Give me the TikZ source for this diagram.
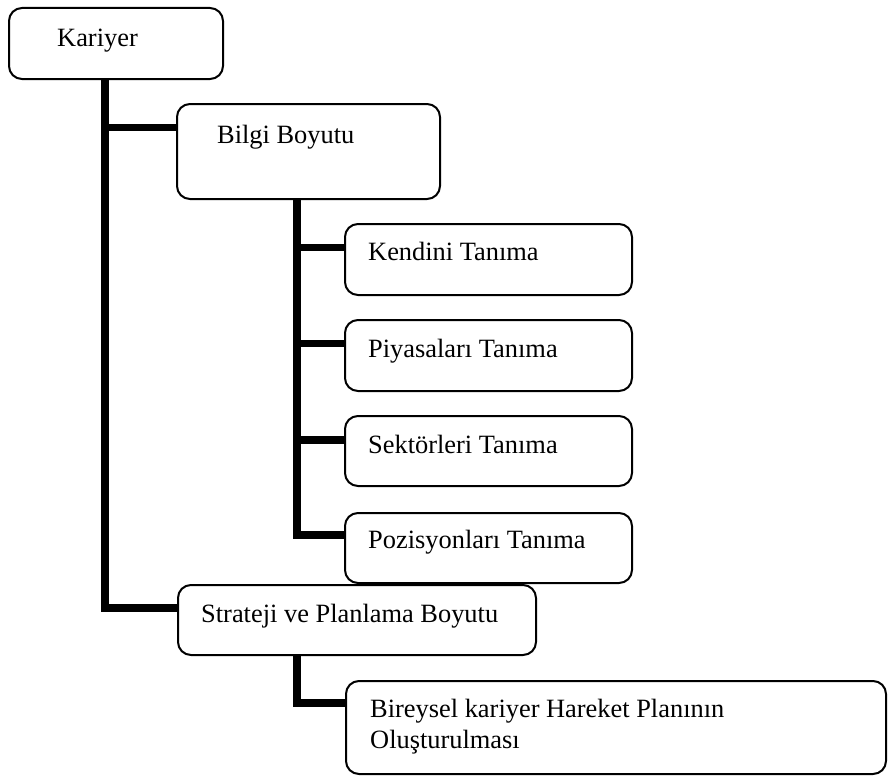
\documentclass[tikz,border=0pt]{standalone}
\usepackage{fontspec}
\setmainfont{Liberation Serif}
\begin{document}
\begin{tikzpicture}[x=1pt,y=-1pt,
  box/.style={draw, fill=white, line width=2pt, rounded corners=13pt,
              anchor=north west, inner sep=0pt, outer sep=0pt},
  txt/.style={anchor=base west, inner sep=0pt,
              font=\fontsize{26.4}{31}\selectfont},
  conn/.style={line width=7.5pt, line join=miter, line cap=butt}]
\useasboundingbox (0,0) rectangle (888,776);

% trunk positions
\coordinate (t1) at (105,0);
\coordinate (t2) at (297,0);

% boxes
\node[box, minimum width=214pt, minimum height=71pt] (kariyer)  at (9,8)   {};
\node[box, minimum width=263pt, minimum height=95pt] (bilgi)    at (177,104) {};
\node[box, minimum width=287pt, minimum height=71pt] (kendini)  at (345,224) {};
\node[box, minimum width=287pt, minimum height=71pt] (piyasa)   at (345,320) {};
\node[box, minimum width=287pt, minimum height=70pt] (sektor)   at (345,416) {};
\node[box, minimum width=287pt, minimum height=70pt] (pozisyon) at (345,513) {};
\node[box, minimum width=358pt, minimum height=70pt] (strat)    at (178,585) {};
\node[box, minimum width=540pt, minimum height=93pt] (bireysel) at (346,681) {};

% connectors
\draw[conn] (kariyer.south -| t1) |- (strat.west |- 0,608);
\draw[conn] (t1 |- 0,127.5) -- (bilgi.west |- 0,127.5);
\draw[conn] (bilgi.south -| t2) |- (pozisyon.west |- 0,535);
\draw[conn] (t2 |- 0,247.5) -- (kendini.west |- 0,247.5);
\draw[conn] (t2 |- 0,343.5) -- (piyasa.west |- 0,343.5);
\draw[conn] (t2 |- 0,440) -- (sektor.west |- 0,440);
\draw[conn] (strat.south -| t2) |- (bireysel.west |- 0,703);

% labels
\node[txt] (lkariyer)  at (57,47)   {Kariyer};
\node[txt] (lbilgi)    at (217,143) {Bilgi Boyutu};
\node[txt] (lkendini)  at (368,260) {Kendini Tanıma};
\node[txt] (lpiyasa)   at (368,357) {Piyasaları Tanıma};
\node[txt] (lsektor)   at (368,453) {Sektörleri Tanıma};
\node[txt] (lpozisyon) at (368,548) {Pozisyonları Tanıma};
\node[txt] (lstrat)    at (201,622) {Strateji ve Planlama Boyutu};
\node[txt] (lbir1)     at (370,717) {Bireysel kariyer Hareket Planının};
\node[txt] (lbir2)     at (370,748) {Oluşturulması};
\end{tikzpicture}
\end{document}
